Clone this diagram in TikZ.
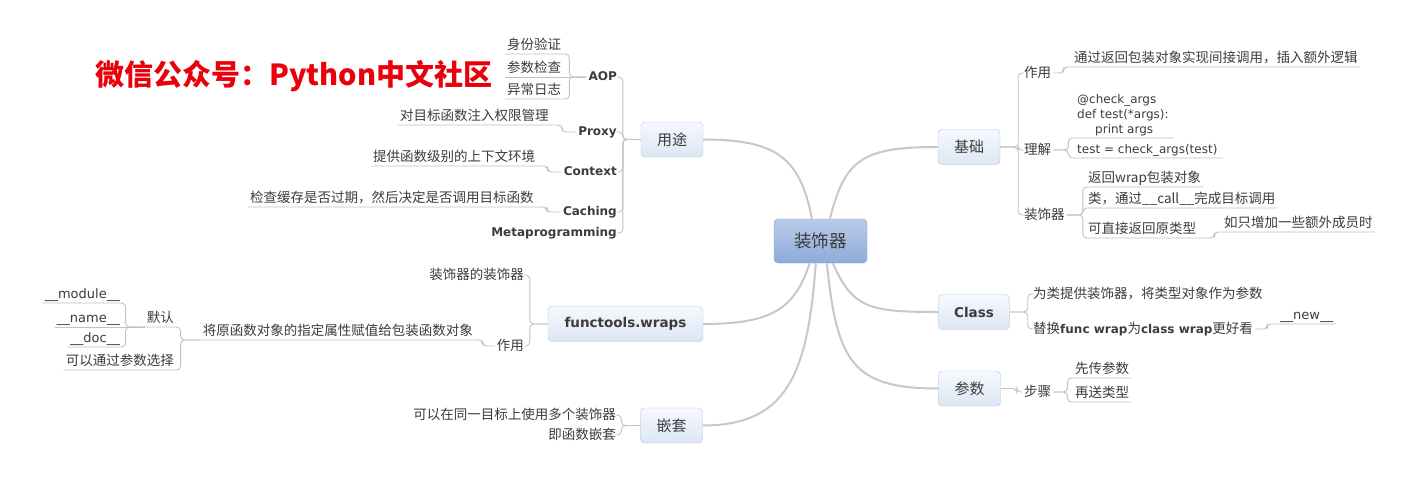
\documentclass[tikz,border=0pt]{standalone}
\usepackage{fontspec}
\setmainfont{DejaVu Sans}
\newfontfamily\cjk{Noto Sans CJK SC}
\newcommand\lat[1]{{\rmfamily\bfseries\fontsize{12}{14}\selectfont #1}}

\definecolor{titlered}{HTML}{E8000B}
\definecolor{txt}{HTML}{3C3C3C}
\definecolor{linkgray}{HTML}{C2C2C2}
\definecolor{branchgray}{HTML}{C8C8C8}
\definecolor{topicline}{HTML}{B4C4DC}
\definecolor{topictop}{HTML}{F6F9FE}
\definecolor{topicbot}{HTML}{DCE6F5}
\definecolor{rootline}{HTML}{8EA6CC}
\definecolor{roottop}{HTML}{BACCE9}
\definecolor{rootbot}{HTML}{8DAAD9}

\tikzset{
  root/.style={draw=rootline, rounded corners=4pt, top color=roottop, bottom color=rootbot,
    text=txt, font=\cjk\fontsize{17.5}{20}\selectfont, minimum width=93pt, minimum height=44pt},
  topic/.style={draw=topicline, rounded corners=4pt, top color=topictop, bottom color=topicbot,
    text=txt, font=\cjk\fontsize{15}{18}\selectfont, minimum width=62pt, minimum height=35pt},
  topicb/.style={topic, font=\bfseries\fontsize{13.5}{16}\selectfont},
  sub/.style={text=txt, font=\bfseries\fontsize{12}{14}\selectfont, inner sep=2pt,
    text height=9pt, text depth=2pt},
  leaf/.style={text=txt, font=\cjk\fontsize{13.5}{15}\selectfont, inner sep=2pt,
    text height=10.5pt, text depth=2pt},
  codeline/.style={leaf, font=\fontsize{12}{14}\selectfont},
  codeblock/.style={text=txt, font=\fontsize{12}{15}\selectfont, inner ysep=2pt, inner xsep=5pt, align=left},
  link/.style={draw=linkgray, line width=0.9pt, rounded corners=4pt},
  branch/.style={draw=branchgray, line width=2pt},
  title/.style={text=titlered, font=\cjk\bfseries\fontsize{29}{32}\selectfont}
}

\begin{document}
\begin{tikzpicture}[x=1pt, y=-1pt]
    \useasboundingbox[fill=white] (0,0) rectangle (1416,482);

    % Title
    \node[title, anchor=west] (title) at (92,76) {微信公众号：Python中文社区};

    % Root and main topics
    \node[root] (deco) at (820.5,241) {装饰器};
    \node[topic] (yongtu) at (672,139.5) {用途};
    \node[topicb, minimum width=155pt] (wraps) at (625.5,324) {functools.wraps};
    \node[topic] (qiantao) at (671.5,425.5) {嵌套};
    \node[topic] (jichu) at (969,147) {基础};
    \node[topicb, minimum width=71pt] (cls) at (974,312) {Class};
    \node[topic] (canshu) at (969.5,388.5) {参数};

    % Main branches
    \draw[branch] (deco.111) .. controls +(-12,-60) and +(75,0) .. (yongtu.east);
    \draw[branch] (deco.244) .. controls +(-15,45) and +(70,0) .. (wraps.east);
    \draw[branch] (deco.258) .. controls +(-8,110) and +(85,0) .. (qiantao.east);
    \draw[branch] (deco.67) .. controls +(15,-60) and +(-75,0) .. (jichu.west);
    \draw[branch] (deco.299) .. controls +(20,45) and +(-70,0) .. (cls.west);
    \draw[branch] (deco.286) .. controls +(10,100) and +(-85,0) .. (canshu.west);

    % Yongtu
    \node[sub, anchor=east] (aop) at (619,77) {AOP};
    \node[sub, anchor=east] (proxy) at (619,132) {Proxy};
    \node[sub, anchor=east] (context) at (619,172) {Context};
    \node[sub, anchor=east] (caching) at (619,212) {Caching};
    \node[sub, anchor=east] (meta) at (619,233) {Metaprogramming};
    \node[leaf, anchor=south west] (shenfen) at (505,54) {身份验证};
    \node[leaf, anchor=south west] (jiancha) at (505,77) {参数检查};
    \node[leaf, anchor=south west] (rizhi) at (505,99) {异常日志};
    \node[leaf, anchor=south west] (quanxian) at (398,125) {对目标函数注入权限管理};
    \node[leaf, anchor=south west] (huanjing) at (371,166) {提供函数级别的上下文环境};
    \node[leaf, anchor=south west] (huancun) at (248,207) {检查缓存是否过期，然后决定是否调用目标函数};

    \draw[link] (yongtu.west) -- ++(-18,0) |- (aop.east);
    \draw[link] (yongtu.west) -- ++(-18,0) |- (proxy.east);
    \draw[link] (yongtu.west) -- ++(-18,0) |- (context.east);
    \draw[link] (yongtu.west) -- ++(-18,0) |- (caching.east);
    \draw[link] (yongtu.west) -- ++(-18,0) |- (meta.east);
    \draw[link] (aop.west) -- ++(-17,0) |- (shenfen.south west);
    \draw[link] (aop.west) -- (jiancha.south west);
    \draw[link] (aop.west) -- ++(-17,0) |- (rizhi.south west);
    \draw[link] (proxy.west) -- ++(-14,0) |- (quanxian.south west);
    \draw[link] (context.west) -- ++(-14,0) |- (huanjing.south west);
    \draw[link] (caching.west) -- ++(-14,0) |- (huancun.south west);

    % functools.wraps
    \node[leaf, anchor=east] (zsqzsq) at (526,275) {装饰器的装饰器};
    \node[leaf, anchor=east] (zuoyong2) at (526,346) {作用};
    \node[leaf, anchor=south east] (fuzhi) at (475,340) {将原函数对象的指定属性赋值给包装函数对象};
    \node[leaf, anchor=south east] (moren) at (176,327) {默认};
    \node[leaf, anchor=south east] (xuanze) at (176,370) {可以通过参数选择};
    \node[codeline, font=\fontsize{13}{15}\selectfont, anchor=south east] (module) at (122,303) {\_\_module\_\_};
    \node[codeline, font=\fontsize{13}{15}\selectfont, anchor=south east] (name) at (122,327) {\_\_name\_\_};
    \node[codeline, font=\fontsize{13}{15}\selectfont, anchor=south east] (doc) at (122,347) {\_\_doc\_\_};

    \draw[link] (wraps.west) -- ++(-18,0) |- (zsqzsq.east);
    \draw[link] (wraps.west) -- ++(-18,0) |- (zuoyong2.east);
    \draw[link] (zuoyong2.west) -- ++(-12,0) |- (fuzhi.south west);
    \draw[link] (fuzhi.south west) -- ++(-20,0) |- (moren.south west);
    \draw[link] (fuzhi.south west) -- ++(-20,0) |- (xuanze.south west);
    \draw[link] (moren.south west) -- ++(-19,0) |- (module.south west);
    \draw[link] (moren.south west) -- (name.south west);
    \draw[link] (moren.south west) -- ++(-19,0) |- (doc.south west);

    % Qiantao
    \node[leaf, anchor=east] (duoge) at (618,415) {可以在同一目标上使用多个装饰器};
    \node[leaf, anchor=east] (qiantaofn) at (618,435) {即函数嵌套};
    \draw[link] (qiantao.west) -- ++(-19,0) |- (duoge.east);
    \draw[link] (qiantao.west) -- ++(-19,0) |- (qiantaofn.east);

    % Jichu
    \node[leaf, anchor=west] (zuoyong) at (1022,73) {作用};
    \node[leaf, anchor=west] (lijie) at (1022,150) {理解};
    \node[leaf, anchor=west] (zsq) at (1022,215) {装饰器};
    \node[leaf, anchor=south west] (jianjie) at (1072,67) {通过返回包装对象实现间接调用，插入额外逻辑};
    \node[codeblock, anchor=south west] (code) at (1072,138) {@check\_args\\def test(*args):\\\hspace*{18pt}print args};
    \node[codeline, inner xsep=5pt, anchor=south west] (assign) at (1072,158) {test = check\_args(test)};
    \node[leaf, anchor=south west] (wrap) at (1086,187) {返回wrap包装对象};
    \node[leaf, anchor=south west] (call) at (1086,208) {类，通过\_\_call\_\_完成目标调用};
    \node[leaf, anchor=south west] (yuanlei) at (1086,238) {可直接返回原类型};
    \node[leaf, anchor=south west] (chengyuan) at (1222,232) {如只增加一些额外成员时};

    \draw[link] (jichu.east) -- ++(18,0) |- (zuoyong.west);
    \draw[link] (jichu.east) -- ++(18,0) |- (lijie.west);
    \draw[link] (jichu.east) -- ++(18,0) |- (zsq.west);
    \draw[link] (zuoyong.east) -- ++(10,0) |- (jianjie.south east);
    \draw[link] (lijie.east) -- ++(15,0) |- (code.south east);
    \draw[link] (lijie.east) -- ++(15,0) |- (assign.south east);
    \draw[link] (zsq.east) -- ++(16,0) |- (wrap.south east);
    \draw[link] (zsq.east) -- ++(16,0) |- (call.south east);
    \draw[link] (zsq.east) -- ++(16,0) |- (yuanlei.south east);
    \draw[link] (yuanlei.south east) -- ++(16,0) |- (chengyuan.south east);

    % Class
    \node[leaf, anchor=west] (leizhuang) at (1031,294) {为类提供装饰器，将类型对象作为参数};
    \node[leaf, anchor=west] (tihuan) at (1031,329) {替换\lat{func wrap}为\lat{class wrap}更好看};
    \node[codeline, font=\fontsize{13}{15}\selectfont, anchor=south west] (new) at (1278,324) {\_\_new\_\_};
    \draw[link] (cls.east) -- ++(18,0) |- (leizhuang.west);
    \draw[link] (cls.east) -- ++(18,0) |- (tihuan.west);
    \draw[link] (tihuan.east) -- ++(12,0) |- (new.south east);

    % Canshu
    \node[leaf, anchor=west] (buzhou) at (1022,392) {步骤};
    \node[leaf, anchor=south west] (xianchuan) at (1073,378) {先传参数};
    \node[leaf, anchor=south west] (zaisong) at (1073,402) {再送类型};
    \draw[link] (canshu.east) -- ++(16,0) |- (buzhou.west);
    \draw[link] (buzhou.east) -- ++(14,0) |- (xianchuan.south east);
    \draw[link] (buzhou.east) -- ++(14,0) |- (zaisong.south east);
\end{tikzpicture}
\end{document}
